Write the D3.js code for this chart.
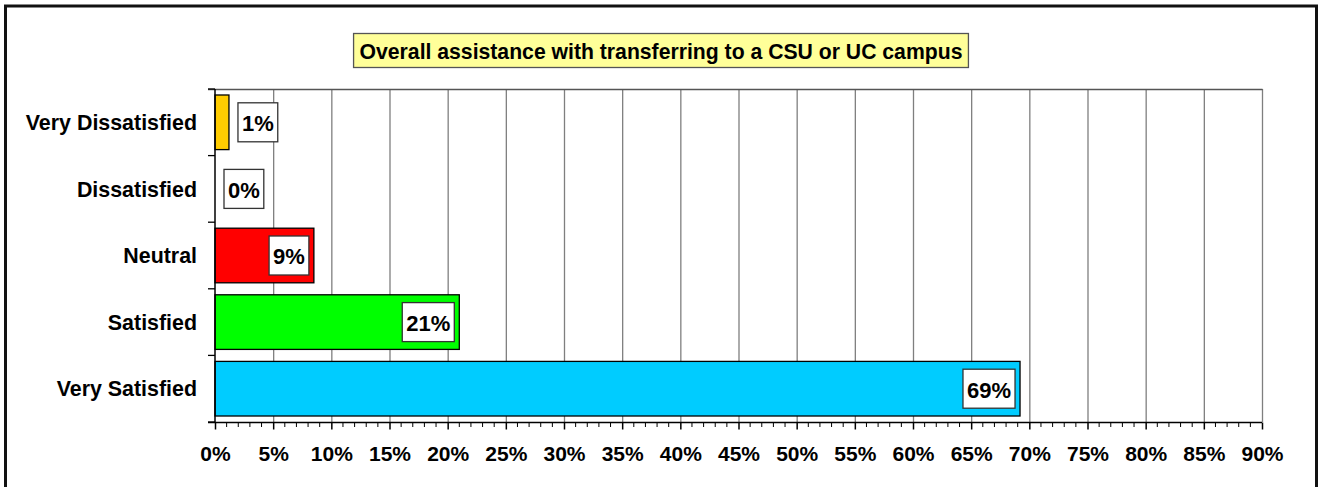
<!DOCTYPE html>
<html>
<head>
<meta charset="utf-8">
<script src="https://cdn.jsdelivr.net/npm/d3@7"></script>
<style>
  body { margin: 0; background: #fff; }
  text { font-family: "Liberation Sans", Arial, sans-serif; font-weight: bold; }
</style>
</head>
<body>
<div id="chart"></div>
<script>
var title = 'Overall assistance with transferring to a CSU or UC campus'
var categories = ['Very Dissatisfied', 'Dissatisfied', 'Neutral', 'Satisfied', 'Very Satisfied']
var values = [1.2, 0, 8.5, 21.0, 69.2]
var labels = ['1%', '0%', '9%', '21%', '69%']
var colors = ['#ffcc00', '#ffffff', '#ff0000', '#00ff00', '#00ccff']
var xTicks = d3.range(0, 91, 5)

var width = 1322
var height = 487
var margin = { top: 89, right: 60, bottom: 65, left: 215 }

var svg = d3.select('#chart').append('svg')
  .attr('width', width)
  .attr('height', height)

// outer frame (bottom edge runs off the picture)
svg.append('rect')
  .attr('x', 5.5).attr('y', 6)
  .attr('width', 1311).attr('height', 520)
  .attr('fill', 'none')
  .attr('stroke', '#111')
  .attr('stroke-width', 3)

var x = d3.scaleLinear()
  .domain([0, 90])
  .range([margin.left, 1262])

var y = d3.scaleBand()
  .domain(categories)
  .range([margin.top, height - margin.bottom])
  .paddingInner(0.18)
  .paddingOuter(0.09)

var y0 = margin.top
var y1 = height - margin.bottom

// gridlines
svg.append('g')
  .selectAll('line')
  .data(xTicks.slice(1))
  .enter()
  .append('line')
  .attr('x1', d => x(d) + 0.5).attr('x2', d => x(d) + 0.5)
  .attr('y1', y0).attr('y2', y1)
  .attr('stroke', '#7f7f7f')
  .attr('stroke-width', 1.3)

svg.append('line')
  .attr('x1', 208).attr('x2', x(90) + 0.5)
  .attr('y1', y0 + 0.5).attr('y2', y0 + 0.5)
  .attr('stroke', '#555')
  .attr('stroke-width', 1.3)

// bars
svg.append('g')
  .selectAll('rect')
  .data(categories)
  .enter()
  .append('rect')
  .filter((d, i) => values[i] > 0)
  .attr('x', x(0))
  .attr('y', d => y(d))
  .attr('width', d => x(values[categories.indexOf(d)]) - x(0))
  .attr('height', y.bandwidth())
  .attr('fill', d => colors[categories.indexOf(d)])
  .attr('stroke', '#000')
  .attr('stroke-width', 1.3)

// x axis
var xAxis = svg.append('g')
  .attr('transform', `translate(0,${y1 + 0.5})`)
  .call(d3.axisBottom(x).tickValues(xTicks).tickFormat(d => d + '%').tickSize(7).tickSizeOuter(0))
xAxis.select('.domain').attr('stroke', '#000').attr('stroke-width', 1.5)
  .attr('d', `M208,0H${x(90)}`)
xAxis.selectAll('.tick line').attr('stroke', '#000').attr('stroke-width', 1.5)
xAxis.selectAll('.tick text')
  .attr('font-size', 21)
  .attr('font-family', '"Liberation Sans", Arial, sans-serif')
  .attr('font-weight', 'bold')
  .attr('fill', '#000')
  .attr('dy', '0.71em')
  .attr('y', 24)

svg.append('g')
  .selectAll('line')
  .data(d3.range(0, 91).filter(d => d % 5 !== 0))
  .enter()
  .append('line')
  .attr('x1', d => x(d)).attr('x2', d => x(d))
  .attr('y1', y1).attr('y2', y1 + 5)
  .attr('stroke', '#000')
  .attr('stroke-width', 1)

// y axis
svg.append('line')
  .attr('x1', x(0)).attr('x2', x(0))
  .attr('y1', y0).attr('y2', y1)
  .attr('stroke', '#000')
  .attr('stroke-width', 1.5)

var step = y.step()
svg.append('g')
  .selectAll('line')
  .data(d3.range(categories.length + 1))
  .enter()
  .append('line')
  .attr('x1', 208).attr('x2', x(0))
  .attr('y1', d => y0 + d * step).attr('y2', d => y0 + d * step)
  .attr('stroke', '#000')
  .attr('stroke-width', 1.3)

svg.append('g')
  .selectAll('text')
  .data(categories)
  .enter()
  .append('text')
  .attr('x', 197)
  .attr('y', d => y(d) + y.bandwidth() / 2)
  .attr('dy', '0.36em')
  .attr('text-anchor', 'end')
  .attr('font-size', 21.4)
  .text(d => d)

// value labels
var lab = svg.append('g')
  .selectAll('g')
  .data(categories)
  .enter()
  .append('g')

lab.each(function (d, i) {
  var g = d3.select(this)
  var t = g.append('text')
    .attr('font-size', 22)
    .attr('dy', '0.36em')
    .text(labels[i])
  var w = t.node().getComputedTextLength() + 8
  var h = 39
  var end = x(values[i])
  var barW = end - x(0)
  var bx = barW > w + 12 ? end - 5 - w : end + 9
  var cy = y(d) + y.bandwidth() / 2
  g.insert('rect', 'text')
    .attr('x', bx).attr('y', cy - h / 2)
    .attr('width', w).attr('height', h)
    .attr('fill', '#fff')
    .attr('stroke', '#333')
    .attr('stroke-width', 1.3)
  t.attr('x', bx + 4).attr('y', cy + 1)
})

// title
var tg = svg.append('g')
var tt = tg.append('text')
  .attr('x', 661)
  .attr('y', 51)
  .attr('dy', '0.36em')
  .attr('text-anchor', 'middle')
  .attr('font-size', 21.2)
  .text(title)
var tw = tt.node().getComputedTextLength()
tg.insert('rect', 'text')
  .attr('x', 661 - tw / 2 - 6).attr('y', 33.5)
  .attr('width', tw + 12).attr('height', 34)
  .attr('fill', '#ffff99')
  .attr('stroke', '#555')
  .attr('stroke-width', 1.3)
</script>
</body>
</html>
